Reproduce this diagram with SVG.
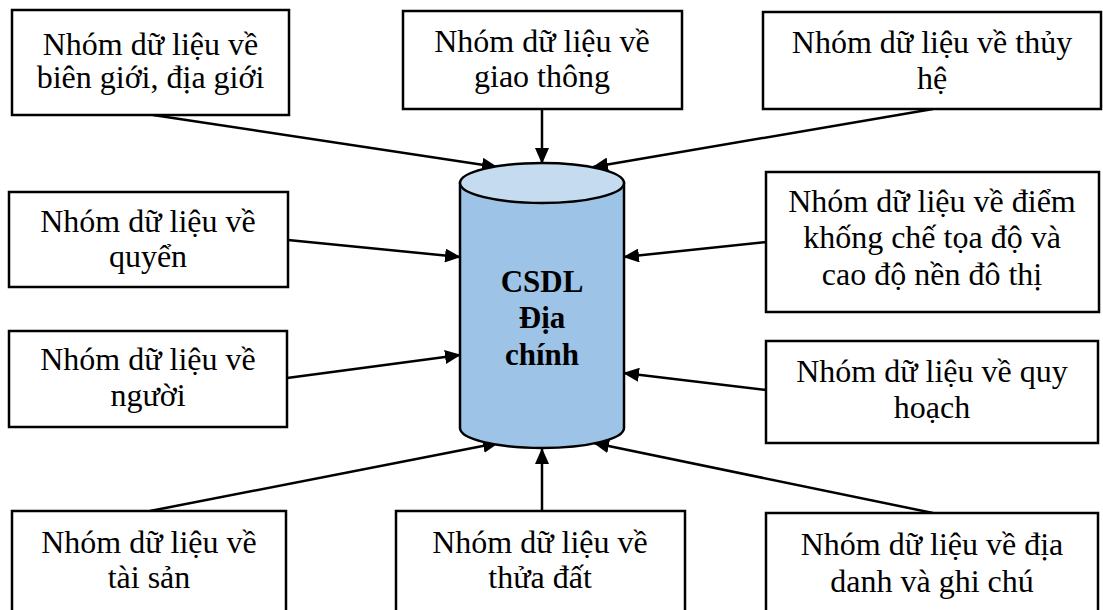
<svg xmlns="http://www.w3.org/2000/svg" width="1103" height="610" viewBox="0 0 1103 610">
  <style>
    .box { fill: #ffffff; stroke: #000000; stroke-width: 2.5; }
    .lbl { font-family: "Liberation Serif", "Times New Roman", serif; font-size: 32px; fill: #000000; text-anchor: middle; }
    .db-title { font-family: "Liberation Serif", "Times New Roman", serif; font-size: 31px; font-weight: bold; fill: #000000; text-anchor: middle; }
    .link { fill: none; stroke: #000000; stroke-width: 2.5; marker-end: url(#arrow); }
  </style>
  <defs>
    <marker id="arrow" viewBox="0 0 16 14" refX="15" refY="7" markerWidth="16" markerHeight="14" markerUnits="userSpaceOnUse" orient="auto">
      <path d="M0,0 L16,7 L0,14 z" fill="#000000"/>
    </marker>
  </defs>
  <rect width="1103" height="610" fill="#ffffff"/>

  <!-- connectors -->
  <g id="connectors">
    <line class="link" x1="153" y1="115" x2="497" y2="167"/>
    <line class="link" x1="542" y1="109" x2="542" y2="163"/>
    <line class="link" x1="933" y1="109" x2="593" y2="167"/>
    <line class="link" x1="288" y1="240" x2="460" y2="257"/>
    <line class="link" x1="766" y1="242" x2="624" y2="257"/>
    <line class="link" x1="287" y1="378" x2="460" y2="355"/>
    <line class="link" x1="766" y1="390" x2="624" y2="373"/>
    <line class="link" x1="150" y1="511" x2="498" y2="443"/>
    <line class="link" x1="542" y1="511" x2="542" y2="449"/>
    <line class="link" x1="933" y1="513" x2="594" y2="443"/>
  </g>

  <!-- central database -->
  <g id="csdl">
    <path d="M460,183 L460,428 A82,20 0 0 0 624,428 L624,183 Z" fill="#9DC3E6" stroke="#000000" stroke-width="2.5"/>
    <ellipse cx="542" cy="183" rx="82" ry="20" fill="#C5DCF0" stroke="#000000" stroke-width="2.5"/>
    <text class="db-title" x="542" y="292">CSDL</text>
    <text class="db-title" x="542" y="328">Địa</text>
    <text class="db-title" x="542" y="365">chính</text>
  </g>

  <g id="bien-gioi">
    <rect class="box" x="12" y="10" width="277" height="105"/>
    <text class="lbl" x="150.5" y="55">Nhóm dữ liệu về</text>
    <text class="lbl" x="150.5" y="88">biên giới, địa giới</text>
  </g>

  <g id="giao-thong">
    <rect class="box" x="403" y="11" width="279" height="98"/>
    <text class="lbl" x="542" y="52">Nhóm dữ liệu về</text>
    <text class="lbl" x="542" y="87">giao thông</text>
  </g>

  <g id="thuy-he">
    <rect class="box" x="763" y="12" width="338" height="97"/>
    <text class="lbl" x="932" y="53">Nhóm dữ liệu về thủy</text>
    <text class="lbl" x="932" y="89">hệ</text>
  </g>

  <g id="quyen">
    <rect class="box" x="9" y="192" width="279" height="95"/>
    <text class="lbl" x="148" y="232">Nhóm dữ liệu về</text>
    <text class="lbl" x="148" y="267">quyển</text>
  </g>

  <g id="diem-khong-che">
    <rect class="box" x="766" y="172" width="333" height="140"/>
    <text class="lbl" x="932" y="212">Nhóm dữ liệu về điểm</text>
    <text class="lbl" x="932" y="248">khống chế tọa độ và</text>
    <text class="lbl" x="932" y="285">cao độ nền đô thị</text>
  </g>

  <g id="nguoi">
    <rect class="box" x="9" y="331" width="278" height="96"/>
    <text class="lbl" x="148" y="370">Nhóm dữ liệu về</text>
    <text class="lbl" x="148" y="406">người</text>
  </g>

  <g id="quy-hoach">
    <rect class="box" x="766" y="341" width="332" height="102"/>
    <text class="lbl" x="932" y="382">Nhóm dữ liệu về quy</text>
    <text class="lbl" x="932" y="418">hoạch</text>
  </g>

  <g id="tai-san">
    <rect class="box" x="12" y="511" width="274" height="110"/>
    <text class="lbl" x="149" y="553">Nhóm dữ liệu về</text>
    <text class="lbl" x="149" y="588">tài sản</text>
  </g>

  <g id="thua-dat">
    <rect class="box" x="396" y="511" width="289" height="110"/>
    <text class="lbl" x="540" y="553">Nhóm dữ liệu về</text>
    <text class="lbl" x="540" y="588">thửa đất</text>
  </g>

  <g id="dia-danh">
    <rect class="box" x="766" y="513" width="332" height="110"/>
    <text class="lbl" x="932" y="555">Nhóm dữ liệu về địa</text>
    <text class="lbl" x="932" y="592">danh và ghi chú</text>
  </g>
</svg>
